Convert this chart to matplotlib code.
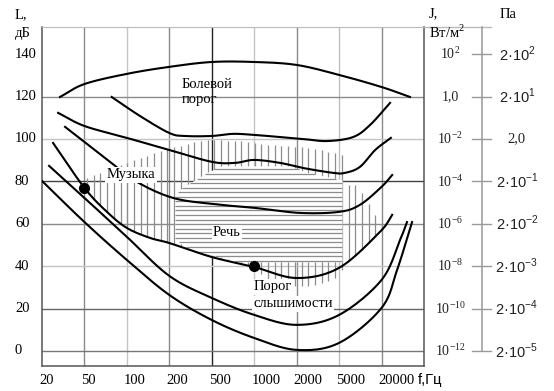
import numpy as np
import matplotlib
matplotlib.use("Agg")
import matplotlib.pyplot as plt
from matplotlib.transforms import ScaledTranslation

plt.rcParams["font.family"] = ["Liberation Serif", "DejaVu Serif"]
plt.rcParams["mathtext.fontset"] = "custom"
plt.rcParams["mathtext.rm"] = "Liberation Serif"
plt.rcParams["mathtext.sf"] = "Liberation Sans"

# axis labels / ticks
tick_freqs = [20, 50, 100, 200, 500, 1000, 2000, 5000, 20000]
tick_labels = ["20", "50", "100", "200", "500", "1000", "2000", "5000", "20000"]
level_ticks = [0, 20, 40, 60, 80, 100, 120, 140]
intensity_labels = [r"10$^{-12}$", r"10$^{-10}$", r"10$^{-8}$", r"10$^{-6}$",
                    r"10$^{-4}$", r"10$^{-2}$", "1,0", r"10$^{2}$"]
pressure_labels = [r"2·10$^{\mathsf{-5}}$", r"2·10$^{\mathsf{-4}}$", r"2·10$^{\mathsf{-3}}$",
                   r"2·10$^{\mathsf{-2}}$", r"2·10$^{\mathsf{-1}}$", "2,0",
                   r"2·10$^{\mathsf{1}}$", r"2·10$^{\mathsf{2}}$"]

# curves: frequency (Hz) and level (dB)
pain_f = [29.5, 50, 100, 200, 500, 1000, 2000, 5000, 20000, 50600]
pain_db = [119.8, 125.9, 130.7, 134.0, 136.3, 136.3, 134.9, 130.2, 124.5, 119.8]

c2_f = [78, 124, 200, 280, 500, 707, 1000, 1526, 2294, 3852, 7900, 13750, 26390]
c2_db = [119.8, 110.8, 102.8, 101.4, 101.4, 102.4, 101.9, 100.9, 100.0, 99.0, 100.9, 106.6, 117.0]

c3_f = [28.3, 50, 100, 200, 500, 731, 1000, 1526, 2294, 4386, 6070, 9860, 16250, 27130]
c3_db = [112.3, 106.1, 100.5, 94.8, 89.2, 88.7, 90.1, 88.7, 86.3, 84.0, 84.0, 86.8, 94.8, 100.5]

c4_f = [32.9, 50, 75.9, 118, 216, 510, 1000, 2150, 5000, 9860, 20000, 28280]
c4_db = [105.7, 98.6, 89.2, 79.7, 72.2, 69.3, 67.5, 65.1, 65.6, 68.9, 77.4, 83.0]

c5_f = [25.4, 50, 72.2, 100, 146, 200, 500, 1000, 2000, 5000, 18900, 28280]
c5_db = [98.1, 76.9, 65.6, 58.0, 53.3, 50.9, 44.3, 39.6, 34.4, 39.2, 56.1, 64.2]

c6_f = [23.3, 50, 100, 200, 500, 1000, 2000, 5000, 20000, 36600, 45900]
c6_db = [87.3, 72.2, 53.8, 35.4, 25.0, 17.0, 12.3, 17.0, 33.5, 52.4, 60.8]

c7_f = [20, 50, 100, 200, 500, 1000, 2000, 5000, 20000, 33200, 54200]
c7_db = [80.2, 60.8, 42.9, 26.4, 14.6, 6.1, 0.5, 3.8, 20.3, 38.2, 60.8]

# music area: upper edge (lower edge is curve 5)
music_f = [52, 66.6, 114, 158, 225, 432, 793, 1292, 2670, 5500, 5870, 8950, 14670, 22350]
music_db = [81.6, 84.4, 90.1, 93.4, 96.2, 99.5, 99.1, 97.2, 95.8, 92.5, 78.3, 78.3, 66.5, 58.0]
# strokes hanging below curve 5 near the threshold label
fringe_f = [900, 1300, 4500, 6500]
fringe_db = [0, 4, 4, 0]

# speech area: level rows with left / right frequency edges
speech_db = [42.0, 47.6, 52.4, 73.6, 76.9, 80.7, 84.4, 87.3]
speech_left_f = [793, 313, 226, 226, 263, 348, 460, 590]
speech_right_f = [5500, 5500, 5500, 5500, 5500, 5500, 2403, 1790]

marks_f = [50, 1000]
marks_db = [77, 40]

lt = np.log10(tick_freqs)
idx = np.arange(len(lt))


def f2p(f):
    lf = np.log10(np.clip(np.asarray(f, float), 1e-3, None))
    p = np.interp(lf, lt, idx)
    p = np.where(lf > lt[-1], idx[-1] + (lf - lt[-1]) / (lt[-1] - lt[-2]), p)
    p = np.where(lf < lt[0], (lf - lt[0]) / (lt[1] - lt[0]), p)
    return p


def p2f(p):
    p = np.asarray(p, float)
    lf = np.interp(p, idx, lt)
    lf = np.where(p > idx[-1], lt[-1] + (p - idx[-1]) * (lt[-1] - lt[-2]), lf)
    lf = np.where(p < 0, lt[0] + p * (lt[1] - lt[0]), lf)
    return 10 ** lf


K = 0.05  # dB -> position units, keeps the smoothing isotropic on screen


def smooth(f, db, n=24):
    pts = np.column_stack([f2p(f), np.asarray(db) * K])
    pts = np.vstack([2 * pts[0] - pts[1], pts, 2 * pts[-1] - pts[-2]])
    t = np.linspace(0, 1, n, endpoint=False)[:, None]
    out = []
    for i in range(1, len(pts) - 2):
        p0, p1, p2, p3 = pts[i - 1], pts[i], pts[i + 1], pts[i + 2]
        out.append(0.5 * (2 * p1 + (-p0 + p2) * t
                          + (2 * p0 - 5 * p1 + 4 * p2 - p3) * t ** 2
                          + (-p0 + 3 * p1 - 3 * p2 + p3) * t ** 3))
    out.append(pts[-2][None])
    out = np.vstack(out)
    return out[:, 0], out[:, 1] / K


fig = plt.figure(figsize=(5.54, 3.91), dpi=100)
ax = fig.add_axes([42 / 554, 1 - 366 / 391, 382 / 554, 339 / 391])
ax.set_xscale("function", functions=(f2p, p2f))
ax.set_xlim(20, p2f(9))
ax.set_ylim(-7.1, 152.8)
ax.set_xticks([])
ax.set_xticks([], minor=True)
ax.set_yticks([])
ax.set_yticks([], minor=True)
for side in ["left", "bottom", "right"]:
    ax.spines[side].set_color("#555555")
    ax.spines[side].set_linewidth(1.1)
ax.spines["top"].set_color("#bbbbbb")
ax.plot([1, 1.175], [1, 1], transform=ax.transAxes, clip_on=False,
        color="#bbbbbb", lw=1)

# grid
vcolors = ["#555555", "#8a8a8a", "#c4c4c4", "#8a8a8a", "#222222",
           "#c4c4c4", "#8a8a8a", "#bdbdbd", "#8a8a8a"]
for f, c in zip(tick_freqs[1:], vcolors[1:]):
    ax.axvline(f, color=c, lw=1.0, zorder=1)
hcolors = ["#777777", "#666666", "#c4c4c4", "#8a8a8a", "#444444", "#c4c4c4", "#8a8a8a"]
for lev, c in zip(level_ticks[:-1], hcolors):
    ax.axhline(lev, color=c, lw=1.0, zorder=1)

# music hatch (vertical strokes)
c5x, c5y = smooth(c5_f, c5_db)
mx = f2p(music_f)
xs = np.arange(1.06, 8.1, 0.158)
top = np.interp(xs, mx, music_db)
bot = np.interp(xs, c5x, c5y) - np.interp(xs, f2p(fringe_f), fringe_db)
keep = top > bot
ax.vlines(p2f(xs[keep]), bot[keep], top[keep], color="#8c8c8c", lw=0.9, zorder=2)

# speech area (white field with horizontal strokes)
lp = f2p(speech_left_f)
rp = f2p(speech_right_f)
ax.fill_betweenx(speech_db, p2f(lp), p2f(rp), color="white", lw=0, zorder=3)
ys = np.arange(speech_db[0] + 0.6, speech_db[-1], 2.15)
ax.hlines(ys, p2f(np.interp(ys, speech_db, lp)), p2f(np.interp(ys, speech_db, rp)),
          color="#8c8c8c", lw=0.9, zorder=3)

# curves
for f, db in [(pain_f, pain_db), (c2_f, c2_db), (c3_f, c3_db), (c4_f, c4_db),
              (c5_f, c5_db), (c6_f, c6_db), (c7_f, c7_db)]:
    x, y = smooth(f, db)
    ax.plot(p2f(x), y, color="black", lw=1.5, zorder=5)
ax.plot(marks_f, marks_db, "o", color="black", ms=7, zorder=6)

box = dict(facecolor="white", edgecolor="none", pad=1.0)
ax.text(263, 122.2, "Болевой\nпорог", fontsize=10.5, ha="left", va="center",
        linespacing=1.2, zorder=7)
ax.text(72, 83, "Музыка", fontsize=10.5, ha="left", va="center", bbox=box, zorder=7)
ax.text(510, 55.7, "Речь", fontsize=10.5, ha="left", va="center", bbox=box, zorder=7)
ax.text(985, 30.2, "Порог", fontsize=10.5, ha="left", va="center", bbox=box, zorder=7)
ax.text(985, 22.2, "слышимости", fontsize=10.5, ha="left", va="center", bbox=box, zorder=7)

# left level labels
ytr = ax.get_yaxis_transform()
for lev in level_ticks:
    ax.text(-0.0707, lev, str(lev), transform=ytr, fontsize=10.5, ha="left",
            va="center", clip_on=False)

# right scales
for lev, lab in zip(level_ticks, intensity_labels):
    ax.text(1.068, lev, lab, transform=ytr, fontsize=10, ha="center",
            va="center", clip_on=False, color="#222222")
for lev, lab in zip(level_ticks, pressure_labels):
    fam = "Liberation Serif" if lab == "2,0" else "Liberation Sans"
    ax.text(1.243, lev, lab, transform=ytr, fontsize=10.5, ha="center",
            va="center", clip_on=False, family=fam, color="#222222")
    ax.plot([1.126, 1.175], [lev, lev], transform=ytr, clip_on=False,
            color="#999999", lw=1)
ax.plot([1.152, 1.152], [0, 152.8], transform=ytr, clip_on=False,
        color="#999999", lw=1.1)

# frequency labels
xtr = ax.get_xaxis_transform() + ScaledTranslation(-3 / 100, 0, fig.dpi_scale_trans)
for f, lab in zip(tick_freqs, tick_labels):
    ax.text(f, -0.0413, lab, transform=xtr, fontsize=10.5, ha="left", va="center",
            clip_on=False)
ax.text(0.984, -0.0413, "f,Гц", transform=ax.transAxes, fontsize=10.5,
        family="Liberation Sans", ha="left", va="center", clip_on=False)

# axis titles
fig.text(15 / 554, 1 - 15 / 391, "L,", fontsize=10.5, ha="left", va="center")
fig.text(15 / 554, 1 - 33 / 391, "дБ", fontsize=10.5, ha="left", va="center")
fig.text(429 / 554, 1 - 14 / 391, "J,", fontsize=10.5, ha="left", va="center")
fig.text(429 / 554, 1 - 32 / 391, "Вт/м$^2$", fontsize=10.5, ha="left", va="center")
fig.text(500 / 554, 1 - 15 / 391, "Па", fontsize=10.5, ha="left", va="center")

fig.savefig("out.png", dpi=100)
